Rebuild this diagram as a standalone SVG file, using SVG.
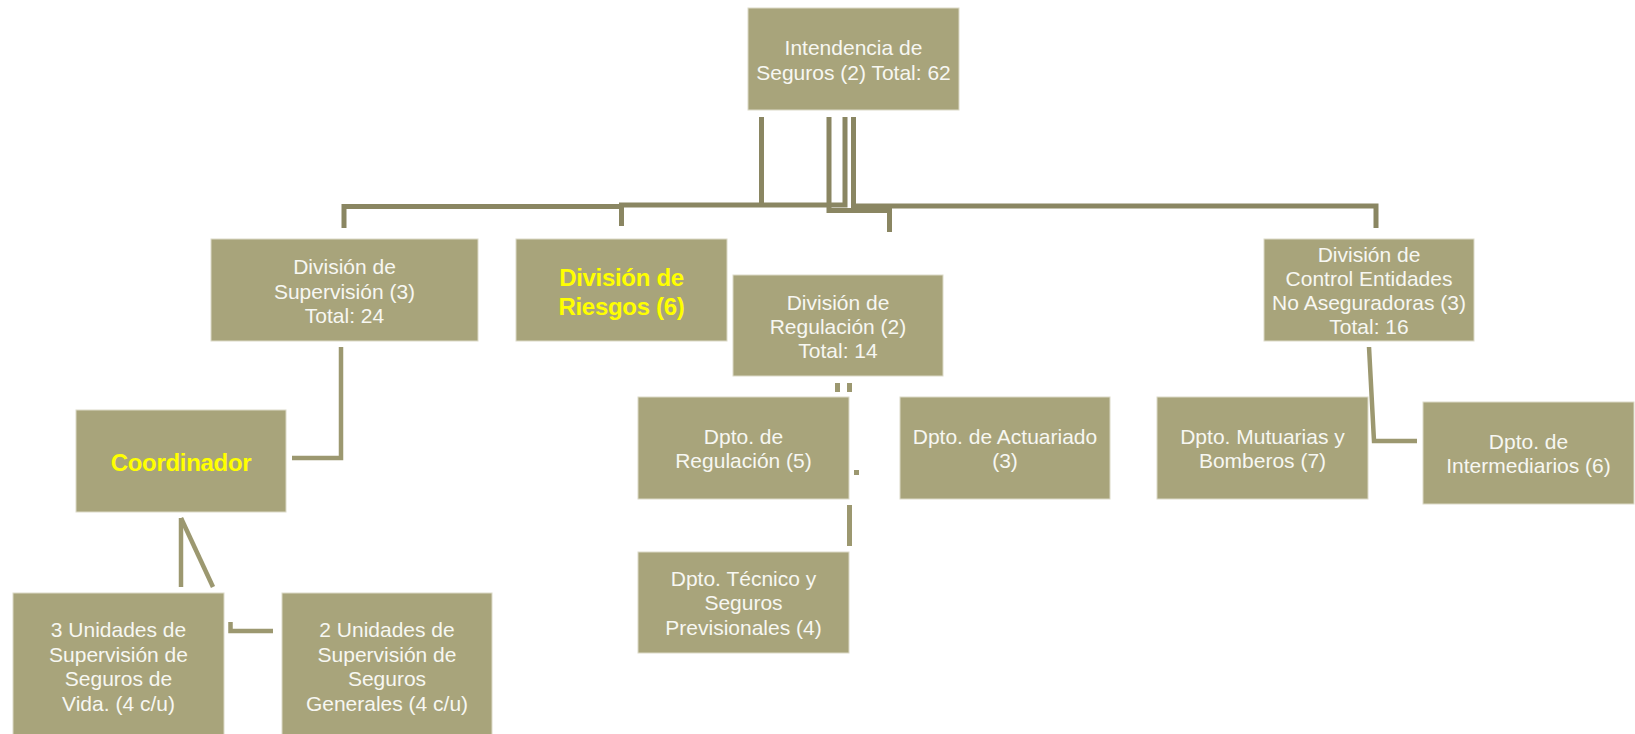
<svg xmlns="http://www.w3.org/2000/svg" width="1635" height="734" viewBox="0 0 1635 734">
<style>
.box{fill:#a8a47b;stroke:#dcdac8;stroke-width:1}
.t{font-family:"Liberation Sans",Arial,sans-serif;font-size:21px;fill:#f7f7f2;text-anchor:middle}
.y{font-family:"Liberation Sans",Arial,sans-serif;font-size:24px;font-weight:bold;fill:#ffff00;text-anchor:middle;letter-spacing:-0.3px}
.c{fill:none;stroke:#8a8662;stroke-width:5}
.c2{fill:none;stroke:#9c9870;stroke-width:4.5}
.d{fill:#9c9870}
</style>
<rect width="1635" height="734" fill="#ffffff"/>
<g id="connectors">
<path class="c" d="M344,228 V206.5 H621.5"/>
<path class="c" d="M621.5,226 V205 H845 V117"/>
<path class="c" d="M761.5,117 V205"/>
<path class="c" d="M829,117 V210.5 H889.5 V232"/>
<path class="c" d="M853.5,117 V206 H1376 V228"/>
<path class="c2" d="M341,347 V458 H292"/>
<path class="c2" d="M181,518 V587"/>
<path class="c2" d="M181,518 L213,587"/>
<path class="c2" d="M230.5,622 V631 H273"/>
<path class="c2" d="M1369,347 L1374,441 H1417"/>
<rect class="d" x="835" y="383" width="5" height="9"/>
<rect class="d" x="847" y="383" width="5" height="9"/>
<rect class="d" x="854" y="470" width="5" height="5"/>
<rect class="d" x="847" y="505" width="5" height="41"/>
</g>
<g id="intendencia">
<rect class="box" x="748" y="8" width="211" height="102"/>
<text class="t" x="853.5" y="55">Intendencia de</text>
<text class="t" x="853.5" y="80">Seguros (2) Total: 62</text>
</g>
<g id="supervision">
<rect class="box" x="211" y="239" width="267" height="102"/>
<text class="t" x="344.5" y="274">División de</text>
<text class="t" x="344.5" y="298.5">Supervisión (3)</text>
<text class="t" x="344.5" y="323">Total: 24</text>
</g>
<g id="riesgos">
<rect class="box" x="516" y="239" width="211" height="102"/>
<text class="y" x="621.5" y="286">División de</text>
<text class="y" x="621.5" y="315">Riesgos (6)</text>
</g>
<g id="regulacion">
<rect class="box" x="733" y="275" width="210" height="101"/>
<text class="t" x="838" y="310">División de</text>
<text class="t" x="838" y="334">Regulación (2)</text>
<text class="t" x="838" y="358">Total: 14</text>
</g>
<g id="control">
<rect class="box" x="1264" y="239" width="210" height="102"/>
<text class="t" x="1369" y="261.5">División de</text>
<text class="t" x="1369" y="285.5">Control Entidades</text>
<text class="t" x="1369" y="310">No Aseguradoras (3)</text>
<text class="t" x="1369" y="334">Total: 16</text>
</g>
<g id="coordinador">
<rect class="box" x="76" y="410" width="210" height="102"/>
<text class="y" x="181" y="470.5">Coordinador</text>
</g>
<g id="unidades-vida">
<rect class="box" x="13" y="593" width="211" height="142"/>
<text class="t" x="118.5" y="637">3 Unidades de</text>
<text class="t" x="118.5" y="661.5">Supervisión de</text>
<text class="t" x="118.5" y="686">Seguros de</text>
<text class="t" x="118.5" y="710.5">Vida. (4 c/u)</text>
</g>
<g id="unidades-generales">
<rect class="box" x="282" y="593" width="210" height="142"/>
<text class="t" x="387" y="637">2 Unidades de</text>
<text class="t" x="387" y="661.5">Supervisión de</text>
<text class="t" x="387" y="686">Seguros</text>
<text class="t" x="387" y="710.5">Generales (4 c/u)</text>
</g>
<g id="dpto-regulacion">
<rect class="box" x="638" y="397" width="211" height="102"/>
<text class="t" x="743.5" y="443.5">Dpto. de</text>
<text class="t" x="743.5" y="468">Regulación (5)</text>
</g>
<g id="dpto-actuariado">
<rect class="box" x="900" y="397" width="210" height="102"/>
<text class="t" x="1005" y="443.5">Dpto. de Actuariado</text>
<text class="t" x="1005" y="468">(3)</text>
</g>
<g id="dpto-tecnico">
<rect class="box" x="638" y="552" width="211" height="101"/>
<text class="t" x="743.5" y="585.5">Dpto. Técnico y</text>
<text class="t" x="743.5" y="610">Seguros</text>
<text class="t" x="743.5" y="634.5">Previsionales (4)</text>
</g>
<g id="dpto-mutuarias">
<rect class="box" x="1157" y="397" width="211" height="102"/>
<text class="t" x="1262.5" y="443.5">Dpto. Mutuarias y</text>
<text class="t" x="1262.5" y="468">Bomberos (7)</text>
</g>
<g id="dpto-intermediarios">
<rect class="box" x="1423" y="402" width="211" height="102"/>
<text class="t" x="1528.5" y="449">Dpto. de</text>
<text class="t" x="1528.5" y="473">Intermediarios (6)</text>
</g>
</svg>
